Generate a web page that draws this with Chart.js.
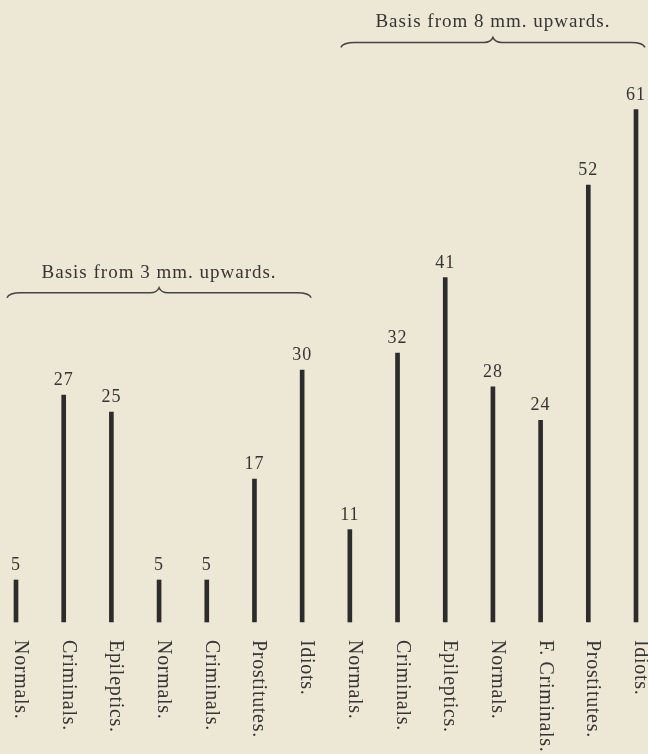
<!DOCTYPE html>
<html>
<head>
<meta charset="utf-8">
<script src="https://cdn.jsdelivr.net/npm/chart.js@4"></script>
<style>
  html, body { margin: 0; background: #ece8d5; }
  canvas { display: block; }
</style>
</head>
<body>
<canvas id="c" width="648" height="754"></canvas>
<script>
const categories = ["Normals.", "Criminals.", "Epileptics.", "Normals.", "Criminals.", "Prostitutes.", "Idiots.",
                    "Normals.", "Criminals.", "Epileptics.", "Normals.", "F. Criminals.", "Prostitutes.", "Idiots."];
const values = [5, 27, 25, 5, 5, 17, 30, 11, 32, 41, 28, 24, 52, 61];
const valueLabels = ["5", "27", "25", "5", "5", "17", "30", "11", "32", "41", "28", "24", "52", "61"];

const groupTitles = ["Basis from 3 mm. upwards.", "Basis from 8 mm. upwards."];
const groupFirst = [0, 7];
const groupLast = [6, 13];
const groupLevel = [39.2, 69]; // where the brace sits, in value units

const ink = "#353535";

const annotations = {
  id: "annotations",
  afterDatasetsDraw(chart) {
    const { ctx } = chart;
    const xs = chart.scales.x;
    const ys = chart.scales.y;
    const meta = chart.getDatasetMeta(0);
    const base = ys.getPixelForValue(0);

    ctx.save();
    ctx.fillStyle = ink;

    // numbers over the bars
    ctx.font = "18px 'Liberation Serif', 'DejaVu Serif', serif";
    ctx.letterSpacing = "1px";
    ctx.textAlign = "center";
    ctx.textBaseline = "alphabetic";
    meta.data.forEach((bar, i) => {
      ctx.fillText(valueLabels[i], bar.x, bar.y - 10);
    });

    // category names, turned to read downwards
    ctx.font = "20px 'Liberation Serif', 'DejaVu Serif', serif";
    ctx.letterSpacing = "0.7px";
    ctx.textAlign = "left";
    categories.forEach((name, i) => {
      const x = xs.getPixelForValue(i);
      ctx.save();
      ctx.translate(x - 1, base + 18);
      ctx.rotate(Math.PI / 2);
      ctx.fillText(name, 0, 0);
      ctx.restore();
    });

    // braces with their titles
    ctx.strokeStyle = "#444";
    ctx.lineWidth = 1.5;
    ctx.font = "19px 'Liberation Serif', 'DejaVu Serif', serif";
    ctx.letterSpacing = "1px";
    ctx.textAlign = "center";
    groupTitles.forEach((title, g) => {
      const x0 = xs.getPixelForValue(groupFirst[g]) - 9;
      const x1 = xs.getPixelForValue(groupLast[g]) + 9;
      const y = ys.getPixelForValue(groupLevel[g]);
      const mid = (x0 + x1) / 2;
      ctx.beginPath();
      ctx.moveTo(x0, y + 5);
      ctx.quadraticCurveTo(x0 + 2, y, x0 + 14, y);
      ctx.lineTo(mid - 9, y);
      ctx.quadraticCurveTo(mid - 2, y, mid, y - 5);
      ctx.quadraticCurveTo(mid + 2, y, mid + 9, y);
      ctx.lineTo(x1 - 14, y);
      ctx.quadraticCurveTo(x1 - 2, y, x1, y + 5);
      ctx.stroke();
      ctx.fillText(title, mid, y - 15);
    });

    ctx.restore();
  }
};

new Chart(document.getElementById("c"), {
  type: "bar",
  data: {
    labels: categories,
    datasets: [{
      data: values,
      backgroundColor: "#2c2c2c",
      barThickness: 4,
      clip: false
    }]
  },
  options: {
    responsive: false,
    animation: false,
    layout: { padding: { left: 16, right: 12, top: 34, bottom: 132 } },
    scales: {
      x: { type: "category", offset: false, display: false },
      y: { display: false, min: 0, max: 70 }
    },
    plugins: {
      legend: { display: false },
      tooltip: { enabled: false }
    }
  },
  plugins: [annotations]
});
</script>
</body>
</html>
